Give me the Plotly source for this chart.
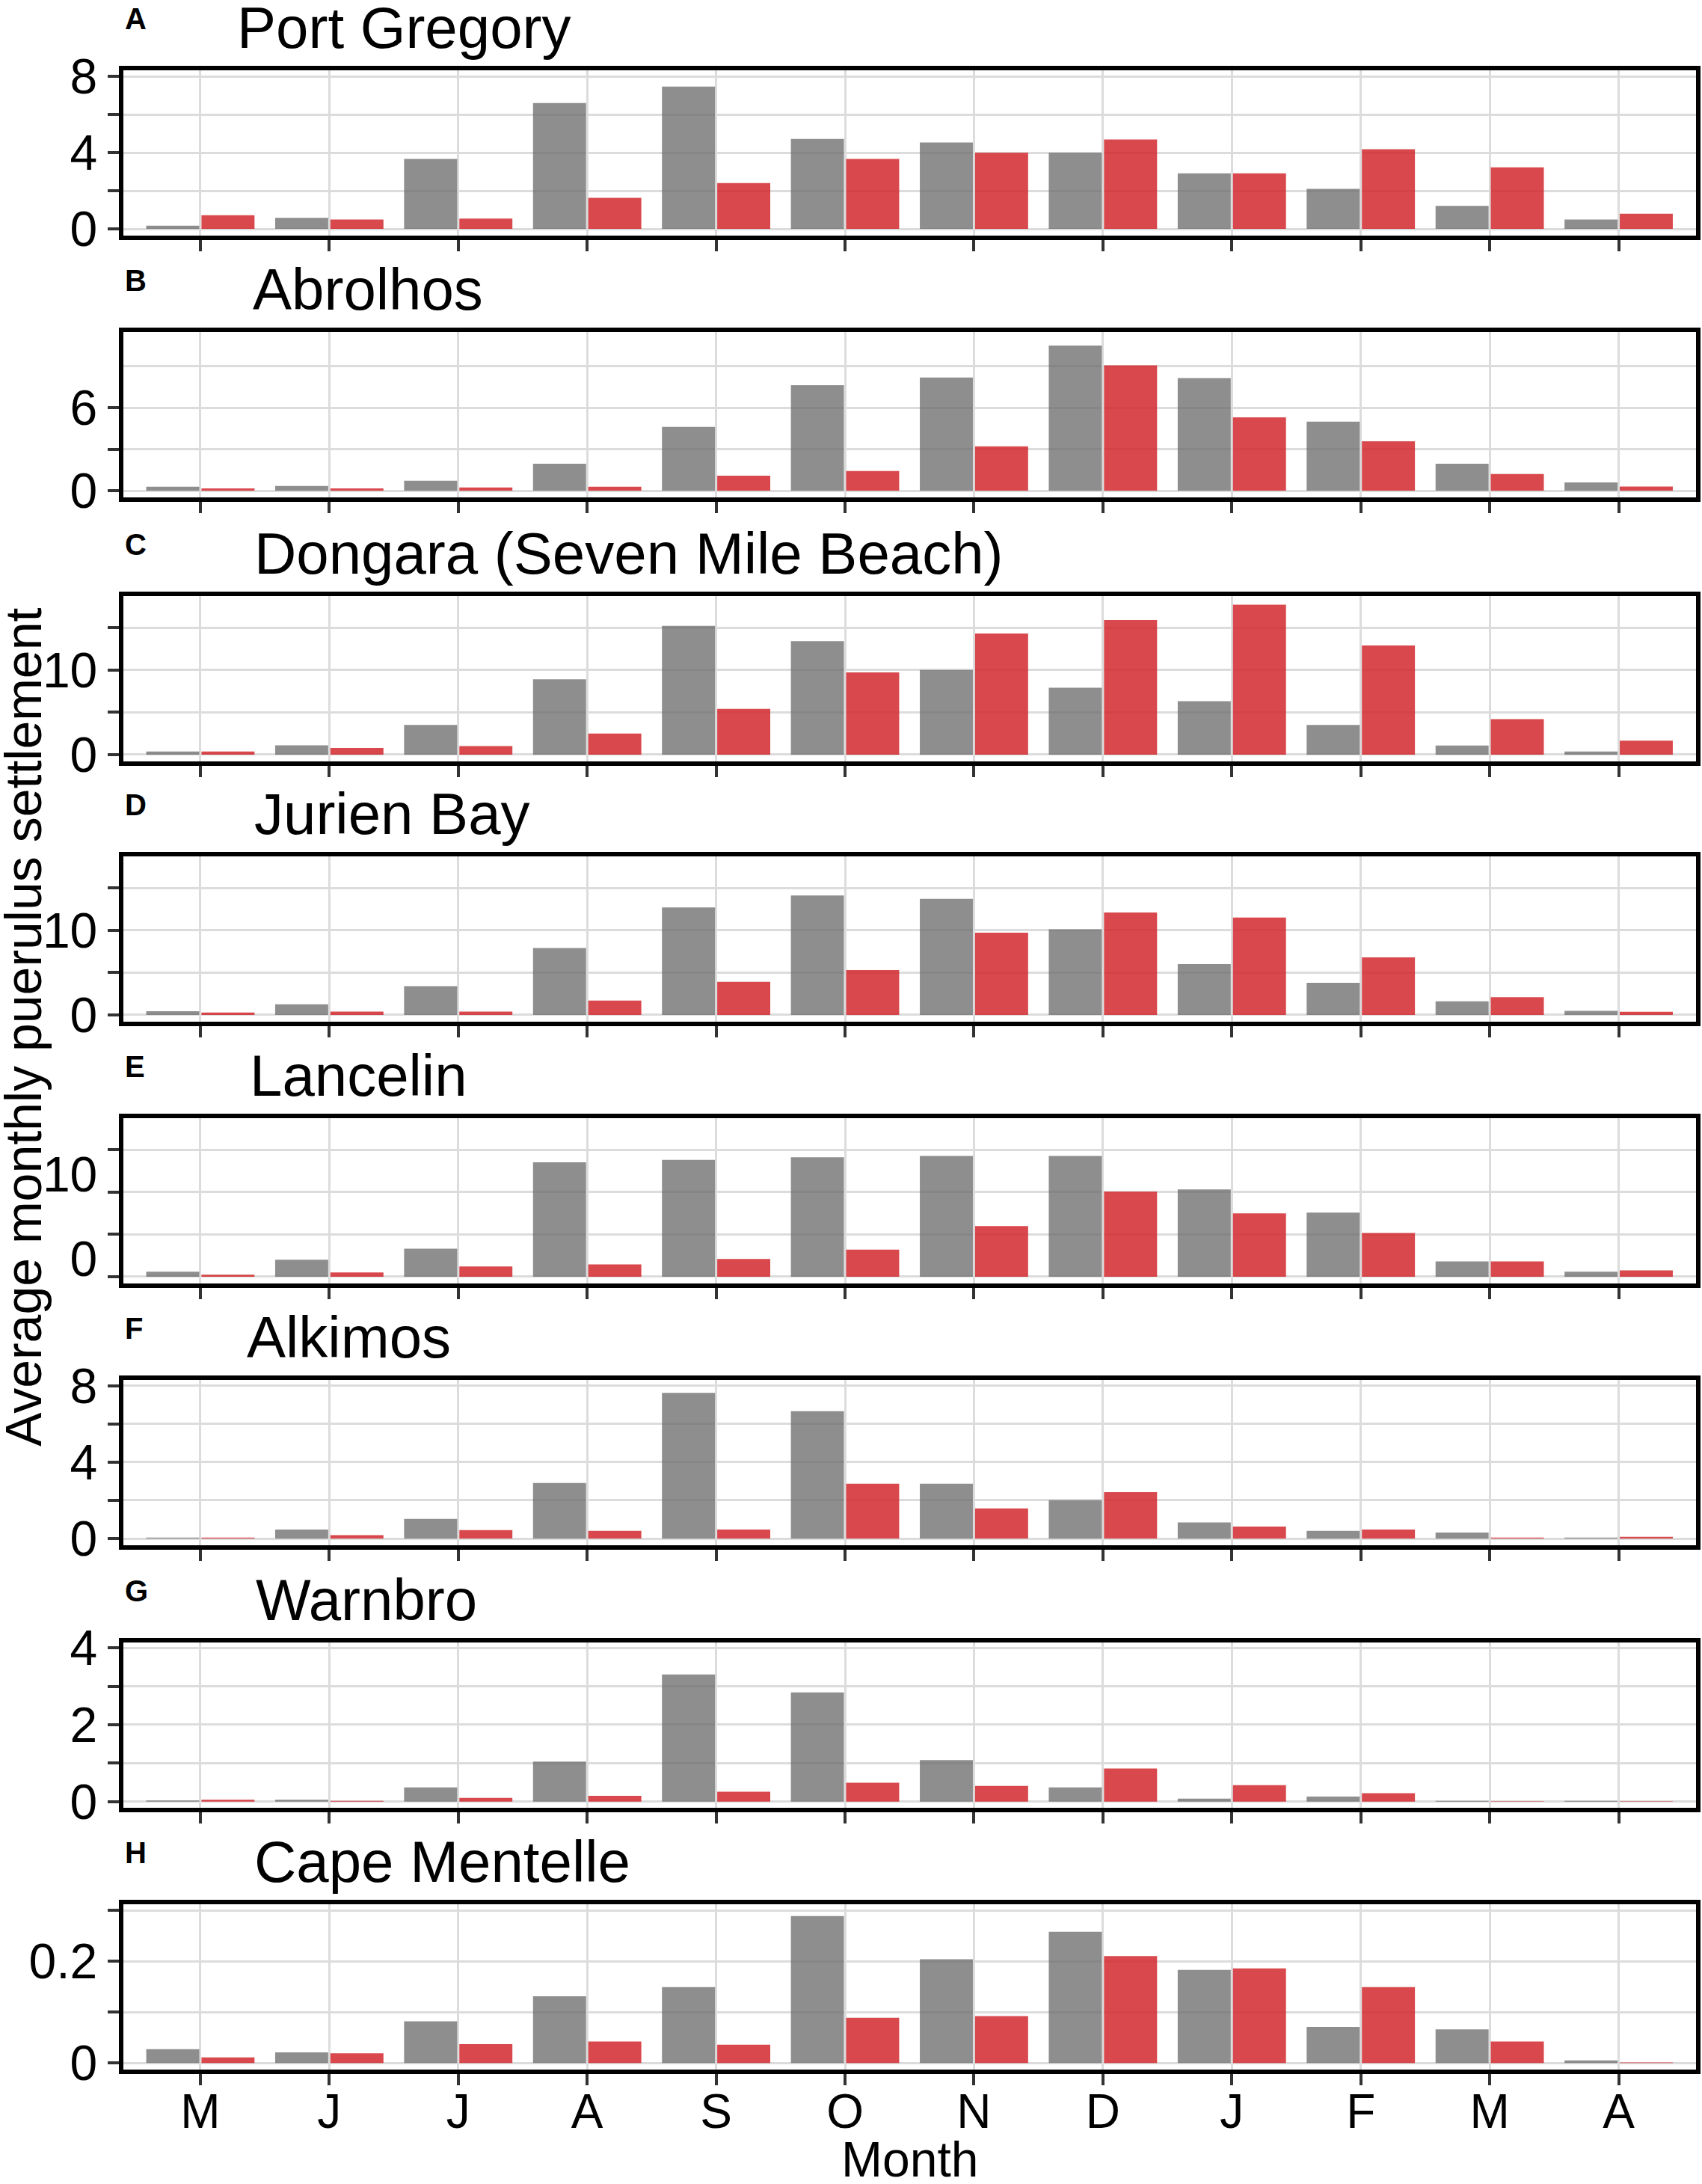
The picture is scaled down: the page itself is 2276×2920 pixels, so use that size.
import plotly.graph_objects as go

W, H = 2276, 2920

months = ["M", "J", "J", "A", "S", "O", "N", "D", "J", "F", "M", "A"]

site_names = ["Port Gregory", "Abrolhos", "Dongara (Seven Mile Beach)", "Jurien Bay",
              "Lancelin", "Alkimos", "Warnbro", "Cape Mentelle"]
panel_letters = ["A", "B", "C", "D", "E", "F", "G", "H"]

port_gregory_grey = [0.17, 0.58, 3.67, 6.60, 7.47, 4.72, 4.53, 3.99, 2.92, 2.10, 1.21, 0.49]
port_gregory_red = [0.72, 0.49, 0.54, 1.63, 2.41, 3.67, 3.99, 4.69, 2.92, 4.18, 3.23, 0.80]

abrolhos_grey = [0.29, 0.34, 0.72, 1.96, 4.61, 7.63, 8.19, 10.5, 8.14, 5.00, 1.96, 0.60]
abrolhos_red = [0.17, 0.17, 0.24, 0.29, 1.09, 1.43, 3.21, 9.06, 5.31, 3.57, 1.21, 0.31]

dongara_grey = [0.36, 1.10, 3.50, 8.90, 15.2, 13.4, 10.0, 7.90, 6.30, 3.50, 1.07, 0.36]
dongara_red = [0.36, 0.80, 1.00, 2.50, 5.40, 9.70, 14.3, 15.9, 17.7, 12.9, 4.20, 1.66]

jurien_grey = [0.43, 1.26, 3.40, 7.90, 12.7, 14.1, 13.7, 10.1, 6.00, 3.80, 1.60, 0.47]
jurien_red = [0.28, 0.40, 0.40, 1.70, 3.90, 5.30, 9.70, 12.1, 11.5, 6.80, 2.10, 0.38]

lancelin_grey = [0.59, 2.00, 3.30, 13.5, 13.8, 14.1, 14.25, 14.25, 10.3, 7.56, 1.81, 0.59]
lancelin_red = [0.24, 0.51, 1.22, 1.46, 2.09, 3.19, 5.98, 10.04, 7.48, 5.16, 1.81, 0.75]

alkimos_grey = [0.05, 0.47, 1.03, 2.91, 7.62, 6.67, 2.87, 2.01, 0.84, 0.40, 0.32, 0.05]
alkimos_red = [0.05, 0.18, 0.44, 0.40, 0.47, 2.87, 1.58, 2.43, 0.63, 0.47, 0.05, 0.09]

warnbro_grey = [0.03, 0.05, 0.37, 1.04, 3.31, 2.84, 1.08, 0.37, 0.08, 0.13, 0.02, 0.02]
warnbro_red = [0.05, 0.02, 0.10, 0.15, 0.26, 0.49, 0.41, 0.86, 0.43, 0.22, 0.01, 0.01]

cape_mentelle_grey = [0.027, 0.021, 0.082, 0.131, 0.149, 0.289, 0.204, 0.258, 0.183, 0.071, 0.066, 0.005]
cape_mentelle_red = [0.011, 0.019, 0.037, 0.042, 0.036, 0.089, 0.092, 0.210, 0.186, 0.149, 0.042, 0.001]

grey_series = [port_gregory_grey, abrolhos_grey, dongara_grey, jurien_grey,
               lancelin_grey, alkimos_grey, warnbro_grey, cape_mentelle_grey]
red_series = [port_gregory_red, abrolhos_red, dongara_red, jurien_red,
              lancelin_red, alkimos_red, warnbro_red, cape_mentelle_red]

y_tickvals = [[0, 2, 4, 6, 8], [0, 3, 6], [0, 5, 10, 15], [0, 5, 10, 15],
              [0, 5, 10, 15], [0, 2, 4, 6, 8], [0, 1, 2, 3, 4], [0, 0.1, 0.2, 0.3]]
y_ticktext = [["0", "", "4", "", "8"], ["0", "", "6"], ["0", "", "10", ""], ["0", "", "10", ""],
              ["0", "", "10", ""], ["0", "", "4", "", "8"], ["0", "", "2", "", "4"],
              ["0", "", "0.2", ""]]
y_ranges = [[-0.35, 8.32], [-0.48, 11.47], [-0.8, 18.72], [-0.8, 18.72],
            [-0.8, 18.72], [-0.35, 8.3], [-0.16, 4.14], [-0.013, 0.312]]

# layout (pixels from top)
box_top = [94, 444, 797, 1145, 1495, 1845, 2196, 2546]
box_h = 221
title_x = [315, 336, 338, 338, 332, 328, 340, 338]
x_left, x_right = 164.5, 2268

FONT = "Liberation Sans, Arial, sans-serif"
GREY = "rgba(110,110,110,0.78)"
RED = "rgba(210,40,45,0.85)"
GRID = "#DCDCDC"
TICKC = "#333333"

fig = go.Figure()
annotations = []
layout = dict(width=W, height=H,
              margin=dict(l=0, r=0, t=0, b=0, pad=0, autoexpand=False),
              paper_bgcolor="white", plot_bgcolor="white",
              barmode="group", bargap=0.143, bargroupgap=0.04, showlegend=False)

xs = list(range(len(months)))

for i in range(8):
    n = i + 1
    xa = "x" if n == 1 else f"x{n}"
    ya = "y" if n == 1 else f"y{n}"
    fig.add_trace(go.Bar(x=xs, y=grey_series[i], marker=dict(color=GREY, line=dict(width=0)),
                         xaxis=xa, yaxis=ya, name="grey"))
    fig.add_trace(go.Bar(x=xs, y=red_series[i], marker=dict(color=RED, line=dict(width=0)),
                         xaxis=xa, yaxis=ya, name="red"))
    top = box_top[i]
    bot = top + box_h
    ydom = [1 - bot / H, 1 - top / H]
    xkey = "xaxis" if n == 1 else f"xaxis{n}"
    ykey = "yaxis" if n == 1 else f"yaxis{n}"
    layout[xkey] = dict(domain=[x_left / W, x_right / W], anchor=ya, range=[-0.6, 11.6],
                        tickmode="array", tickvals=xs, ticktext=months,
                        showticklabels=(n == 8), ticks="outside", ticklen=15, tickwidth=4,
                        tickcolor=TICKC, showline=True, linewidth=6, linecolor="black",
                        mirror=True, showgrid=True, gridcolor=GRID, gridwidth=2.5,
                        zeroline=False, tickfont=dict(family=FONT, size=64, color="black"),
                        ticklabelstandoff=-20, automargin=False, fixedrange=True)
    ydict = dict(domain=ydom, anchor=xa, range=y_ranges[i], tickmode="array",
                 tickvals=y_tickvals[i], ticktext=y_ticktext[i], ticks="outside",
                 ticklen=15, tickwidth=4, tickcolor=TICKC, showline=True, linewidth=6,
                 linecolor="black", mirror=True, showgrid=True, gridcolor=GRID,
                 gridwidth=2.5, zeroline=False, automargin=False,
                 tickfont=dict(family=FONT, size=66, color="black"), fixedrange=True)
    if n == 2:
        ydict["minor"] = dict(tickmode="array", tickvals=[9], showgrid=True,
                              gridcolor=GRID, gridwidth=2.5, ticks="")
    if n == 5:
        ydict["ticklabelshift"] = -24
    layout[ykey] = ydict

    # panel letter
    annotations.append(dict(text=f"<b>{panel_letters[i]}</b>", xref="paper", yref="paper",
                            x=x_left / W, y=1 - (top - 69) / H, xanchor="left", yanchor="middle",
                            showarrow=False, font=dict(family=FONT, size=40, color="black")))
    # panel title
    annotations.append(dict(text=site_names[i], xref="paper", yref="paper",
                            x=title_x[i] / W, y=1 - (top - 57) / H, xanchor="left",
                            yanchor="middle", showarrow=False,
                            font=dict(family=FONT, size=78, color="black")))

annotations.append(dict(text="Average monthly puerulus settlement", xref="paper", yref="paper",
                        x=31 / W, y=1 - 1374 / H, xanchor="center", yanchor="middle",
                        textangle=-90, showarrow=False,
                        font=dict(family=FONT, size=68, color="black")))
annotations.append(dict(text="Month", xref="paper", yref="paper",
                        x=1216 / W, y=1 - 2887 / H, xanchor="center", yanchor="middle",
                        showarrow=False, font=dict(family=FONT, size=66, color="black")))

layout["annotations"] = annotations
fig.update_layout(**layout)

fig.write_html("out.html", config={"displayModeBar": False},
               post_script="document.body.style.margin='0';")
